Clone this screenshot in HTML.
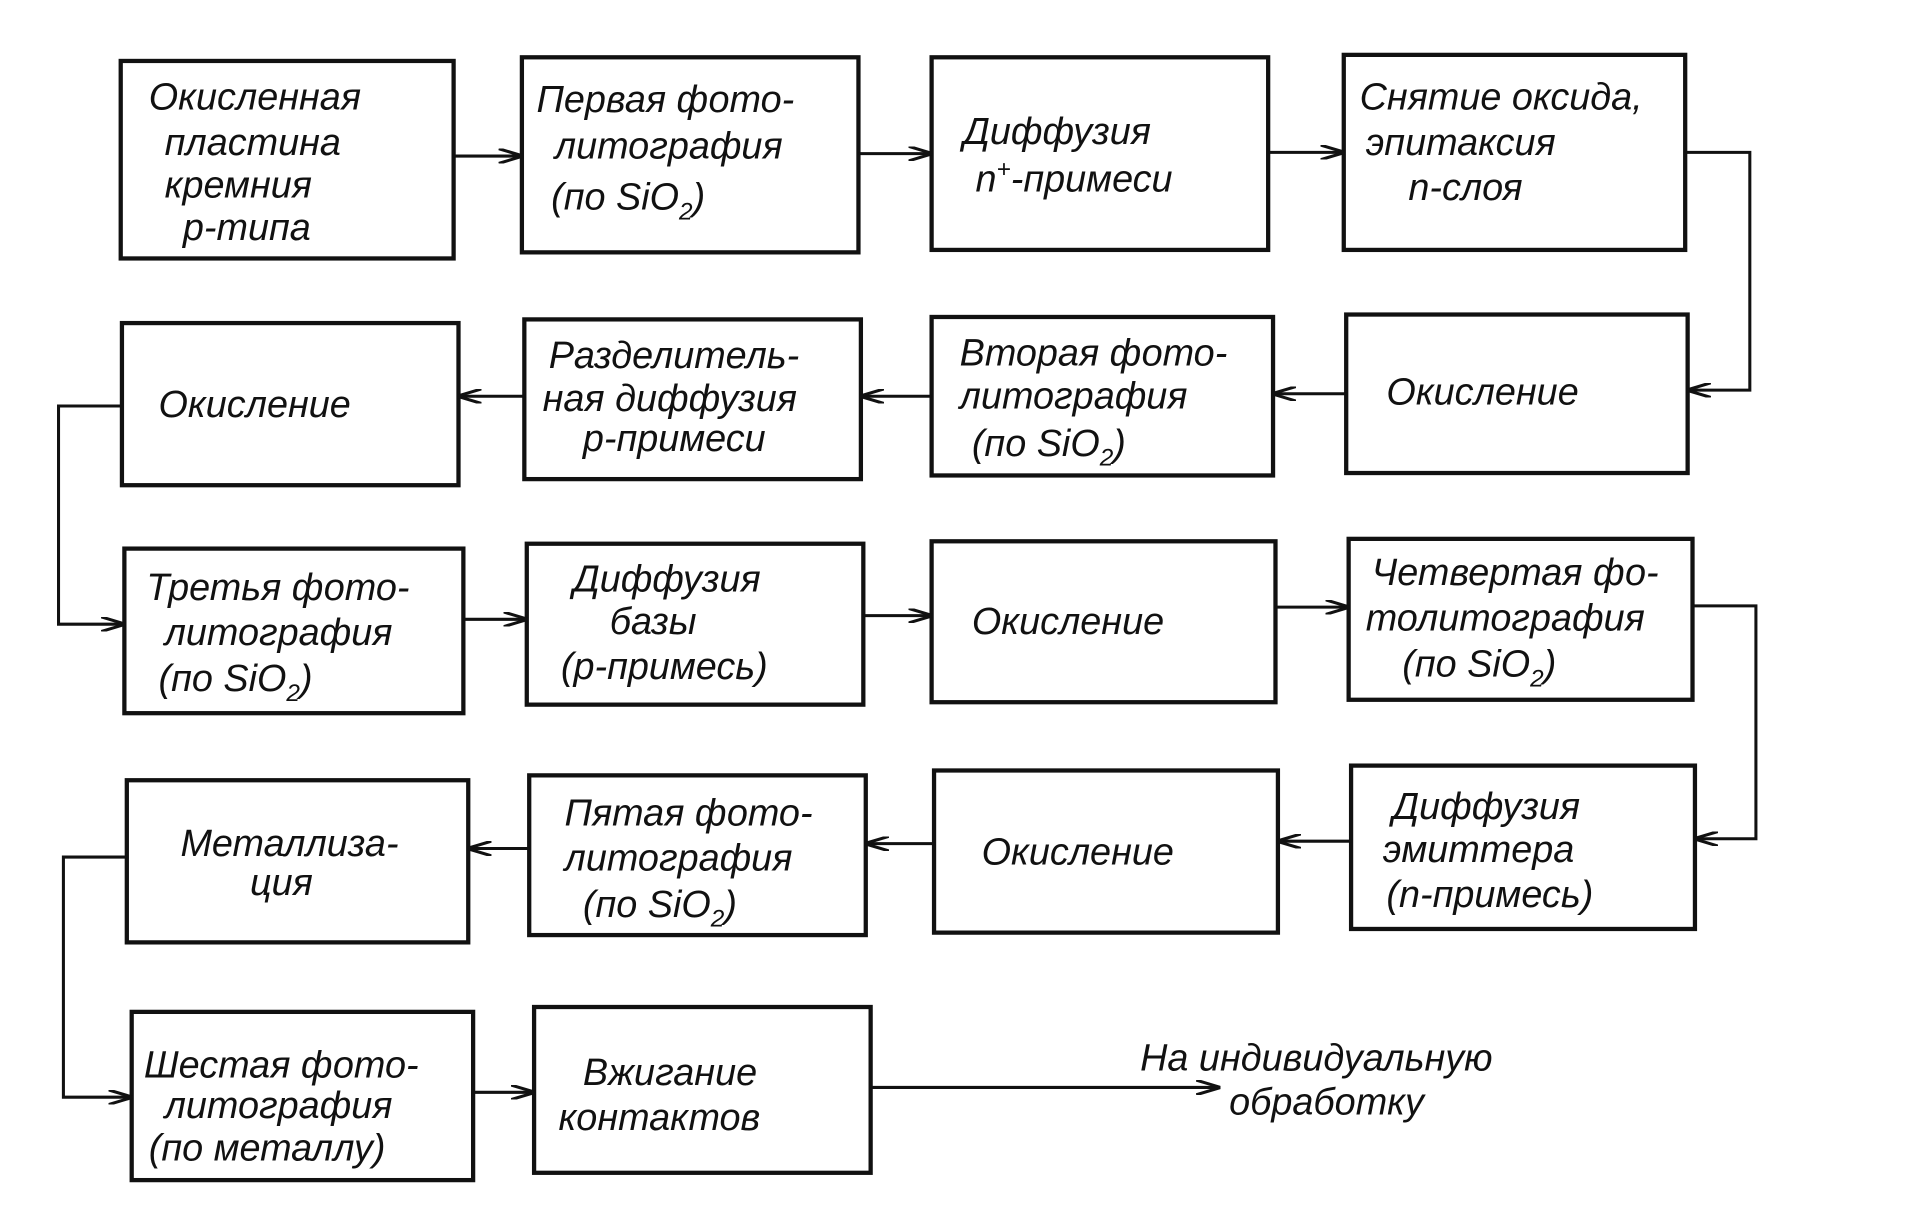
<!DOCTYPE html>
<html><head><meta charset="utf-8"><style>
html,body{margin:0;padding:0;background:#fff;}
svg{display:block}
text{font-family:"Liberation Sans Narrow","Liberation Sans",sans-serif;font-style:italic;font-size:31px;fill:#111;}
</style></head><body>
<svg width="1912" height="1224" viewBox="0 0 1568 1004" preserveAspectRatio="none" xmlns="http://www.w3.org/2000/svg">
<defs><marker id="a" viewBox="0 0 20 12" refX="19" refY="6" markerWidth="20" markerHeight="12" markerUnits="userSpaceOnUse" orient="auto"><path d="M0,0 L20,6 L0,12" fill="none" stroke="#111" stroke-width="2.5"/></marker></defs>
<g fill="none" stroke="#111" stroke-width="3.5">
<rect x="99" y="50" width="273" height="162"/>
<rect x="428" y="47" width="276" height="160"/>
<rect x="764" y="47" width="276" height="158"/>
<rect x="1102" y="45" width="280" height="160"/>
<rect x="100" y="265" width="276" height="133"/>
<rect x="430" y="262" width="276" height="131"/>
<rect x="764" y="260" width="280" height="130"/>
<rect x="1104" y="258" width="280" height="130"/>
<rect x="102" y="450" width="278" height="135"/>
<rect x="432" y="446" width="276" height="132"/>
<rect x="764" y="444" width="282" height="132"/>
<rect x="1106" y="442" width="282" height="132"/>
<rect x="104" y="640" width="280" height="133"/>
<rect x="434" y="636" width="276" height="131"/>
<rect x="766" y="632" width="282" height="133"/>
<rect x="1108" y="628" width="282" height="134"/>
<rect x="108" y="830" width="280" height="138"/>
<rect x="438" y="826" width="276" height="136"/>
</g>
<g fill="none" stroke="#111" stroke-width="2.5" marker-end="url(#a)">
<path d="M372,128 H428"/><path d="M704,126 H764"/><path d="M1040,125 H1102"/>
<path d="M1382,125 H1435 V320 H1384"/>
<path d="M1104,323 H1044"/><path d="M764,325 H706"/><path d="M430,325 H376"/>
<path d="M100,333 H48 V512 H102"/>
<path d="M380,508 H432"/><path d="M708,505 H764"/><path d="M1046,498 H1106"/>
<path d="M1388,497 H1440 V688 H1390"/>
<path d="M1108,690 H1048"/><path d="M766,692 H710"/><path d="M434,696 H384"/>
<path d="M104,703 H52 V900 H108"/>
<path d="M388,896 H438"/><path d="M714,892 H1000"/>
</g>
<text x="122" y="90">Окисленная</text><text x="135" y="127">пластина</text><text x="135" y="162">кремния</text><text x="150" y="197">p-типа</text>
<text x="440" y="92">Первая  фото-</text><text x="455" y="130">литография</text><text x="452" y="172">(по SiO<tspan font-size="20" dy="8">2</tspan><tspan dy="-8">)</tspan></text>
<text x="790" y="118">Диффузия</text><text x="800" y="157">n<tspan font-size="20" dy="-12">+</tspan><tspan dy="12">-примеси</tspan></text>
<text x="1115" y="90">Снятие оксида,</text><text x="1120" y="127">эпитаксия</text><text x="1155" y="164">n-слоя</text>
<text x="130" y="342">Окисление</text>
<text x="450" y="302">Разделитель-</text><text x="445" y="337">ная диффузия</text><text x="478" y="370">p-примеси</text>
<text x="787" y="300">Вторая фото-</text><text x="787" y="335">литография</text><text x="797" y="374">(по SiO<tspan font-size="20" dy="8">2</tspan><tspan dy="-8">)</tspan></text>
<text x="1137" y="332">Окисление</text>
<text x="120" y="492">Третья фото-</text><text x="135" y="529">литография</text><text x="130" y="567">(по SiO<tspan font-size="20" dy="8">2</tspan><tspan dy="-8">)</tspan></text>
<text x="470" y="485">Диффузия</text><text x="500" y="520">базы</text><text x="460" y="557">(p-примесь)</text>
<text x="797" y="520">Окисление</text>
<text x="1125" y="480">Четвертая фо-</text><text x="1120" y="517">толитография</text><text x="1150" y="555">(по  SiO<tspan font-size="20" dy="8">2</tspan><tspan dy="-8">)</tspan></text>
<text x="148" y="702">Металлиза-</text><text x="205" y="734">ция</text>
<text x="463" y="677">Пятая  фото-</text><text x="463" y="714">литография</text><text x="478" y="752">(по  SiO<tspan font-size="20" dy="8">2</tspan><tspan dy="-8">)</tspan></text>
<text x="805" y="709">Окисление</text>
<text x="1142" y="672">Диффузия</text><text x="1134" y="707">эмиттера</text><text x="1137" y="744">(n-примесь)</text>
<text x="118" y="884">Шестая фото-</text><text x="135" y="917">литография</text><text x="122" y="952">(по металлу)</text>
<text x="478" y="890">Вжигание</text><text x="458" y="927">контактов</text>
<text x="935" y="878">На индивидуальную</text><text x="1008" y="914">обработку</text>
</svg>
</body></html>
